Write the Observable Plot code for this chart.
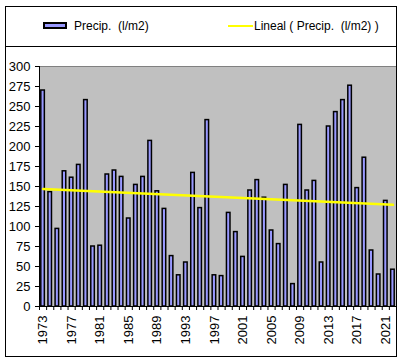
<!DOCTYPE html>
<html>
<head>
<meta charset="utf-8">
<script src="https://cdn.jsdelivr.net/npm/d3@7"></script>
<script src="https://cdn.jsdelivr.net/npm/@observablehq/plot@0.6"></script>
<style>
  html, body { margin: 0; padding: 0; background: #fff; }
  body { font-family: "Liberation Sans", Arial, sans-serif; }
  #wrap { position: relative; width: 402px; height: 361px; overflow: hidden; }
  #legend { position: absolute; left: 0; top: 0; width: 402px; height: 46px; font-size: 12px; color: #000; }
  #legend .t { position: absolute; white-space: pre; line-height: 1; }
  #chart { position: absolute; left: 0; top: 46px; }
  #frame { position: absolute; left: 5px; top: 6px; width: 392px; height: 351px; box-sizing: border-box; border: 1px solid #000; pointer-events: none; }
  #sep { position: absolute; left: 5px; top: 46px; width: 392px; height: 1px; background: #000; pointer-events: none; }
</style>
</head>
<body>
<div id="wrap">
  <div id="legend">
    <div style="position:absolute;left:43px;top:22px;width:24px;height:7px;box-sizing:border-box;border:2px solid #000;background:#9999ff;"></div>
    <div class="t" id="lg1" style="left:74px;top:20px;"></div>
    <div style="position:absolute;left:228px;top:25px;width:25px;height:1.5px;background:#ffff00;"></div>
    <div class="t" id="lg2" style="left:254px;top:20px;"></div>
  </div>
  <div id="chart"></div>
  <div id="sep"></div>
  <div id="frame"></div>
</div>
<script>
const years = [1973,1974,1975,1976,1977,1978,1979,1980,1981,1982,1983,1984,1985,1986,1987,1988,1989,1990,1991,1992,1993,1994,1995,1996,1997,1998,1999,2000,2001,2002,2003,2004,2005,2006,2007,2008,2009,2010,2011,2012,2013,2014,2015,2016,2017,2018,2019,2020,2021,2022];
const precip = [270,143,97,169,161,177,258,75,76,165,170,162,110,152,162,207,144,122,63,39,55,167,123,233,39,38,117,93,62,145,158,136,95,78,152,28,227,145,157,55,225,243,258,276,148,186,70,40,132,46];
const yTicks = [0,25,50,75,100,125,150,175,200,225,250,275,300];
const xLabelYears = [1973,1977,1981,1985,1989,1993,1997,2001,2005,2009,2013,2017,2021];
const seriesName = "Precip.  (l/m2)";
const trendName = "Lineal ( Precip.  (l/m2) )";

document.getElementById("lg1").textContent = seriesName;
document.getElementById("lg2").textContent = trendName;

const data = years.map((year, i) => ({year, value: precip[i]}));
const boundaries = years.map(y => y - 0.5).concat([years[years.length - 1] + 0.5]);

const chart = Plot.plot({
  width: 402,
  height: 315,
  marginTop: 20,
  marginBottom: 55,
  marginLeft: 39,
  marginRight: 6,
  style: {fontFamily: '"Liberation Sans", Arial, sans-serif', fontSize: "13px", color: "#000", background: "transparent"},
  x: {type: "linear", domain: [boundaries[0], boundaries[boundaries.length - 1]], axis: null, label: null},
  y: {domain: [0, 300], axis: null, label: null},
  marks: [
    Plot.frame({fill: "#c0c0c0", stroke: null}),
    Plot.ruleY([300], {stroke: "#808080", strokeWidth: 1}),
    Plot.rectY(data, {
      x1: d => d.year - 0.5,
      x2: d => d.year + 0.5,
      y: "value",
      fill: "#9999ff",
      stroke: "#000",
      strokeWidth: 1.5,
      insetLeft: 1.8,
      insetRight: 1.8
    }),
    Plot.linearRegressionY(data, {x: "year", y: "value", stroke: "#ffff00", strokeWidth: 2.5, ci: 0}),
    Plot.ruleX([boundaries[0]], {stroke: "#000", strokeWidth: 1}),
    Plot.ruleY([0], {stroke: "#000", strokeWidth: 1}),
    Plot.axisY({ticks: yTicks, tickSize: 4, tickPadding: 5, fontSize: 13, label: null, tickFormat: d => String(d)}),
    Plot.axisX({ticks: boundaries, tickSize: 4, label: null, tickFormat: () => ""}),
    Plot.axisX({ticks: xLabelYears, tickSize: 0, tickPadding: 9, tickRotate: -90, fontSize: 13, label: null, tickFormat: d => String(d)})
  ]
});
document.getElementById("chart").appendChild(chart);
</script>
</body>
</html>
